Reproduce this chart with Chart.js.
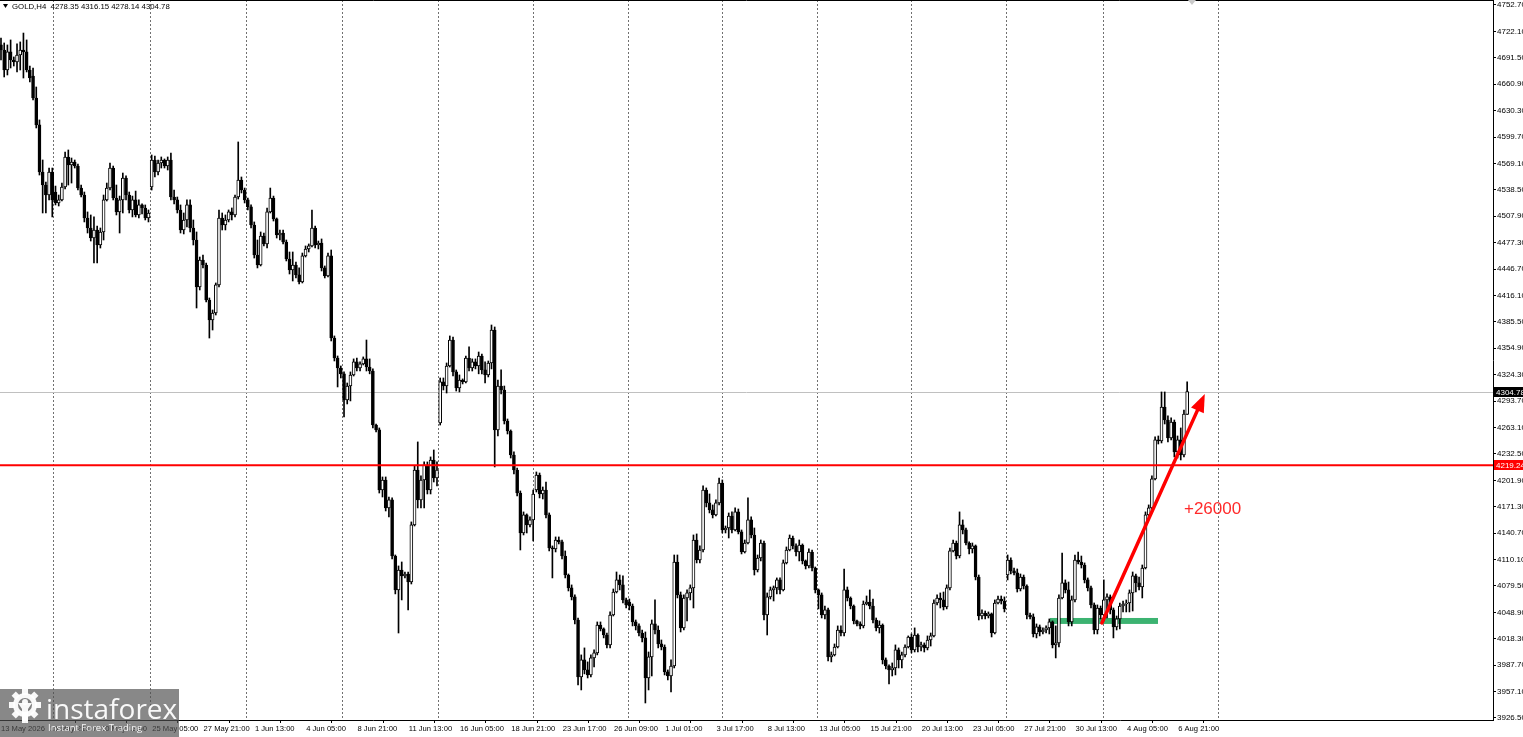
<!DOCTYPE html>
<html>
<head>
<meta charset="utf-8">
<script src="https://cdn.jsdelivr.net/npm/chart.js@4.4.1/dist/chart.umd.min.js"></script>
<style>
  html, body { margin: 0; padding: 0; background: #fff; overflow: hidden; }
  #wrap { width: 1523px; height: 737px; }
</style>
</head>
<body>
<div id="wrap"><canvas id="chart" width="1523" height="737"></canvas></div>
<script>
// GOLD H4 candles, one entry per bar (bar 0 = 13 May 2026 05:00)
const symbol = 'GOLD,H4';
const opens = [4706.4,4700.6,4677.4,4698.3,4689.0,4686.7,4694.8,4700.6,4698.3,4677.4,
4670.4,4644.9,4613.7,4559.2,4544.1,4532.5,4559.2,4536.0,4523.3,4526.8,
4541.8,4576.6,4567.3,4570.8,4566.1,4540.6,4532.5,4505.9,4494.3,4482.7,
4492.0,4474.6,4489.7,4526.8,4540.6,4563.8,4529.1,4512.9,4526.8,4552.2,
4532.5,4515.2,4526.8,4509.4,4521.0,4517.5,4505.9,4541.8,4573.1,4559.2,
4569.6,4573.1,4566.1,4573.1,4530.2,4526.8,4515.2,4492.0,4503.6,4521.0,
4494.3,4480.4,4426.0,4457.2,4451.4,4410.9,4387.7,4395.8,4428.3,4505.9,
4497.8,4503.6,4512.9,4509.4,4530.2,4549.9,4538.3,4526.8,4518.7,4497.8,
4463.0,4451.4,4485.0,4475.8,4512.9,4529.1,4504.8,4486.2,4488.5,4478.1,
4458.4,4445.7,4451.4,4439.9,4431.8,4461.9,4470.0,4473.5,4494.3,4474.6,
4476.9,4448.0,4438.7,4461.9,4366.8,4343.7,4332.1,4325.2,4295.0,4311.2,
4324.0,4339.1,4332.1,4336.8,4342.6,4333.2,4328.6,4266.0,4260.3,4190.7,
4202.3,4169.9,4179.2,4114.2,4074.9,4098.0,4091.1,4093.4,4084.1,4150.2,
4213.9,4179.2,4202.3,4219.7,4190.7,4225.5,4204.6,4268.4,4315.9,4311.2,
4334.4,4364.5,4327.5,4308.9,4318.2,4315.9,4343.7,4332.1,4339.1,4334.4,
4346.0,4329.8,4324.0,4337.9,4376.1,4260.3,4311.2,4306.6,4270.7,4259.1,
4231.3,4213.9,4187.2,4140.9,4161.8,4150.2,4156.0,4190.7,4208.1,4186.1,
4190.7,4161.8,4123.5,4122.4,4132.8,4130.5,4114.2,4092.2,4077.2,4066.8,
4040.1,3974.1,3993.8,3982.2,3976.4,3996.1,4001.9,4034.3,4029.7,4022.7,
4011.2,4045.9,4072.5,4086.5,4080.7,4063.3,4060.9,4056.3,4037.8,4033.2,
4025.0,4019.3,3972.9,3997.3,4035.5,4028.5,4012.3,4008.8,3979.9,3975.2,
3986.8,4107.3,4069.1,4030.9,4065.6,4071.4,4077.2,4132.8,4109.6,4121.2,
4190.7,4175.7,4167.6,4161.8,4175.7,4198.8,4144.4,4146.7,4160.6,4144.4,
4165.3,4142.1,4118.9,4129.3,4156.0,4138.6,4098.0,4111.9,4129.3,4045.9,
4066.8,4074.9,4077.2,4086.5,4074.9,4106.2,4121.2,4135.1,4125.9,4118.9,
4127.0,4108.5,4102.7,4118.9,4100.3,4074.9,4069.1,4045.9,4051.7,3997.3,
3999.6,4008.8,4028.5,4025.0,4074.9,4065.6,4056.3,4039.0,4035.5,4033.2,
4058.6,4060.9,4056.3,4040.1,4030.9,4034.3,3993.8,3986.8,3982.2,3984.5,
4005.4,3993.8,3999.6,4008.8,4020.4,4005.4,4022.7,4008.8,4011.2,4007.7,
4016.9,4021.6,4059.8,4065.6,4063.3,4055.2,4077.2,4120.1,4129.3,4114.2,
4150.2,4144.4,4129.3,4122.4,4125.9,4089.9,4044.7,4048.2,4044.7,4047.1,
4025.0,4059.8,4064.4,4062.1,4092.2,4109.6,4096.9,4094.6,4076.0,4089.9,
4079.5,4045.9,4043.6,4023.9,4032.0,4026.2,4028.5,4030.9,4037.8,4011.2,
4013.5,4065.6,4083.0,4074.9,4037.8,4063.3,4109.6,4107.3,4103.8,4086.5,
4077.2,4057.5,4028.5,4054.0,4045.9,4063.3,4066.8,4051.7,4032.0,4041.3,
4056.3,4058.6,4059.8,4071.4,4091.1,4083.0,4078.3,4100.3,4161.8,4169.9,
4203.5,4248.7,4247.5,4286.9,4271.8,4251.0,4269.5,4234.8,4248.7,4231.3,
4278.35];
const highs = [4714.5,4708.7,4706.4,4712.2,4692.5,4707.6,4709.9,4720.2,4712.2,4682.0,
4679.7,4657.7,4619.5,4573.1,4547.6,4563.8,4563.8,4542.9,4532.5,4546.4,
4582.4,4584.7,4575.4,4573.1,4568.5,4544.1,4536.0,4512.9,4509.4,4507.1,
4496.6,4494.3,4532.5,4546.4,4569.6,4566.1,4544.1,4531.3,4558.0,4554.6,
4536.0,4531.3,4537.1,4526.8,4522.2,4521.0,4515.2,4578.9,4577.7,4573.1,
4576.6,4574.3,4576.6,4581.2,4538.3,4530.2,4521.0,4511.7,4526.8,4526.8,
4503.6,4489.7,4460.7,4463.0,4453.7,4413.2,4399.3,4430.6,4515.2,4511.7,
4509.4,4515.2,4517.5,4532.5,4594.0,4553.4,4540.6,4529.1,4521.0,4501.3,
4480.4,4489.7,4488.5,4517.5,4540.6,4531.3,4505.9,4492.0,4492.0,4480.4,
4466.5,4466.5,4454.9,4448.0,4465.3,4473.5,4475.8,4515.2,4496.6,4479.2,
4481.6,4450.3,4465.3,4468.8,4369.2,4346.0,4334.4,4327.5,4314.7,4327.5,
4342.6,4343.7,4339.1,4344.9,4364.5,4342.6,4331.0,4267.2,4262.6,4205.8,
4205.8,4182.6,4181.5,4115.4,4102.7,4107.3,4095.7,4095.7,4153.7,4218.5,
4246.4,4207.0,4223.2,4223.2,4229.0,4237.1,4223.2,4320.5,4320.5,4337.9,
4369.2,4368.0,4329.8,4324.0,4319.4,4346.0,4356.5,4342.6,4342.6,4350.6,
4348.3,4339.1,4340.2,4381.9,4379.6,4318.2,4329.8,4311.2,4273.0,4260.3,
4234.8,4216.2,4189.6,4165.3,4163.0,4159.5,4190.7,4211.6,4210.4,4194.2,
4200.0,4164.1,4125.9,4136.3,4136.3,4132.8,4120.1,4093.4,4080.7,4069.1,
4042.4,3999.6,4007.7,3991.5,3999.6,4005.4,4037.8,4037.8,4030.9,4025.0,
4049.4,4076.0,4095.7,4092.2,4091.1,4065.6,4064.4,4058.6,4040.1,4035.5,
4028.5,4026.2,4003.0,4040.1,4063.3,4033.2,4016.9,4011.2,3982.2,3993.8,
4115.4,4115.4,4072.5,4069.1,4074.9,4080.7,4138.6,4139.8,4125.9,4195.4,
4193.1,4186.1,4173.4,4179.2,4204.6,4202.3,4149.0,4164.1,4165.3,4169.9,
4168.7,4144.4,4132.8,4181.5,4159.5,4146.7,4115.4,4132.8,4131.6,4071.4,
4078.3,4079.5,4088.8,4088.8,4109.6,4124.7,4138.6,4137.4,4128.2,4132.8,
4128.2,4109.6,4122.4,4121.2,4101.5,4076.0,4071.4,4056.3,4054.0,4003.0,
4012.3,4033.2,4033.2,4099.2,4078.3,4066.8,4057.5,4040.1,4037.8,4062.1,
4067.9,4074.9,4064.4,4042.4,4039.0,4035.5,3996.1,3988.0,3990.3,4011.2,
4007.7,4003.0,4011.2,4021.6,4023.9,4030.9,4023.9,4014.6,4013.5,4021.6,
4025.0,4063.3,4069.1,4071.4,4072.5,4080.7,4123.5,4132.8,4131.6,4165.3,
4156.0,4146.7,4130.5,4129.3,4127.0,4092.2,4051.7,4050.5,4049.4,4048.2,
4063.3,4067.9,4067.9,4066.8,4115.4,4112.0,4100.3,4099.2,4093.4,4092.2,
4080.7,4048.2,4047.1,4035.5,4034.3,4030.9,4033.2,4041.3,4039.0,4033.2,
4069.1,4117.7,4086.5,4084.1,4067.9,4115.4,4118.9,4114.2,4106.2,4088.8,
4079.5,4059.8,4057.5,4056.3,4086.5,4070.3,4069.1,4054.0,4044.7,4059.8,
4062.1,4063.3,4074.9,4095.7,4093.4,4089.9,4103.8,4165.3,4173.4,4207.0,
4252.2,4253.3,4304.3,4304.3,4276.5,4274.2,4271.8,4253.3,4262.6,4283.4,
4316.15];
const lows = [4689.0,4669.3,4671.6,4679.7,4682.0,4675.1,4677.4,4668.1,4675.1,4663.5,
4642.6,4610.2,4555.7,4511.7,4511.7,4526.8,4507.1,4521.0,4519.8,4525.6,
4539.5,4544.1,4546.4,4563.8,4538.3,4530.2,4501.3,4488.5,4479.2,4453.7,
4453.7,4471.1,4480.4,4525.6,4538.3,4526.8,4509.4,4488.5,4511.7,4526.8,
4511.7,4507.1,4507.1,4505.9,4510.6,4503.6,4501.3,4538.3,4553.4,4555.7,
4563.8,4563.8,4561.5,4526.8,4522.2,4511.7,4488.5,4487.4,4495.5,4489.7,
4474.6,4401.6,4422.5,4448.0,4408.6,4366.8,4376.1,4393.5,4426.0,4492.0,
4492.0,4501.3,4503.6,4507.1,4527.9,4534.9,4523.3,4515.2,4494.3,4459.5,
4448.0,4450.3,4473.5,4471.1,4511.7,4502.4,4482.7,4480.4,4475.8,4456.1,
4441.0,4432.9,4436.4,4429.4,4430.6,4460.7,4466.5,4472.3,4471.1,4470.0,
4444.5,4436.4,4437.5,4363.4,4340.2,4310.1,4320.5,4275.3,4290.4,4293.9,
4322.8,4328.6,4328.6,4335.6,4328.6,4325.3,4262.6,4258.0,4187.2,4182.6,
4166.4,4159.5,4110.8,4070.3,4025.0,4063.3,4088.8,4051.7,4081.8,4149.0,
4169.9,4169.9,4169.9,4186.1,4186.1,4200.0,4195.4,4266.0,4306.6,4303.1,
4333.2,4322.8,4305.4,4304.3,4313.6,4314.7,4328.6,4328.6,4331.0,4325.3,
4325.3,4314.7,4321.7,4331.0,4217.4,4253.3,4302.0,4267.2,4255.6,4227.8,
4209.3,4183.8,4121.2,4138.6,4140.9,4147.9,4131.6,4188.4,4181.5,4180.3,
4158.3,4120.1,4088.8,4118.9,4128.2,4110.8,4088.8,4073.7,4063.3,4035.5,
3964.8,3959.0,3977.6,3972.9,3974.1,3985.7,3999.6,4027.4,4019.3,4007.7,
4007.7,4044.7,4071.4,4074.9,4059.8,4054.0,4051.7,4033.2,4028.5,4021.6,
4014.6,3943.9,3959.0,3975.2,4023.9,4007.7,4005.4,3976.4,3970.6,3956.7,
3984.5,4065.6,4026.2,4028.5,4038.9,4063.3,4054.0,4106.2,4106.2,4118.9,
4171.1,4164.1,4158.3,4160.6,4173.4,4140.9,4140.9,4135.1,4140.9,4143.2,
4139.8,4116.6,4117.7,4128.2,4135.1,4092.2,4095.7,4108.5,4040.1,4022.7,
4064.4,4062.1,4070.3,4070.3,4073.7,4105.0,4120.1,4122.4,4114.2,4108.5,
4105.0,4099.2,4100.3,4096.9,4071.4,4052.9,4042.4,4041.3,3992.6,3991.5,
3998.4,4007.7,4021.6,4021.6,4062.1,4052.9,4035.5,4033.2,4029.7,4030.9,
4057.5,4052.9,4036.6,4027.4,4025.0,3989.1,3983.4,3966.0,3975.2,3976.4,
3984.5,3984.5,3997.3,4007.7,4001.9,4003.0,4003.0,4004.2,4003.0,4005.4,
4009.9,4020.4,4057.5,4054.0,4051.7,4052.9,4074.9,4118.9,4110.8,4112.0,
4139.8,4127.0,4116.6,4117.7,4086.5,4040.1,4041.3,4041.3,4042.4,4020.4,
4023.9,4058.6,4058.6,4049.4,4086.5,4093.4,4092.2,4072.5,4073.7,4076.0,
4041.3,4041.3,4020.4,4019.3,4021.6,4023.9,4025.0,4023.9,4007.7,3996.1,
4008.8,4064.4,4071.4,4033.2,4033.2,4061.0,4105.0,4100.3,4083.0,4073.7,
4054.0,4023.9,4023.9,4041.3,4039.0,4042.4,4047.1,4019.3,4028.5,4029.7,
4049.4,4049.4,4049.4,4050.5,4072.5,4074.9,4065.6,4099.2,4158.3,4168.7,
4202.3,4244.0,4245.2,4267.2,4246.4,4248.7,4229.0,4227.8,4225.5,4229.0,
4278.14];
const closes = [4700.6,4677.4,4698.3,4689.0,4686.7,4694.8,4700.6,4698.3,4677.4,4668.1,
4644.9,4613.7,4559.2,4544.1,4532.5,4559.2,4526.8,4523.3,4526.8,4541.8,
4576.6,4567.3,4570.8,4566.1,4540.6,4532.5,4505.9,4494.3,4482.7,4492.0,
4474.6,4489.7,4526.8,4540.6,4563.8,4529.1,4512.9,4526.8,4552.2,4532.5,
4515.2,4526.8,4509.4,4521.0,4517.5,4505.9,4511.7,4573.1,4559.2,4569.6,
4573.1,4566.1,4573.1,4530.2,4526.8,4515.2,4492.0,4503.6,4521.0,4494.3,
4480.4,4426.0,4457.2,4451.4,4410.9,4387.7,4395.8,4428.3,4505.9,4497.8,
4503.6,4512.9,4509.4,4530.2,4549.9,4538.3,4526.8,4518.7,4497.8,4463.0,
4451.4,4485.0,4475.8,4512.9,4529.1,4504.8,4486.2,4488.5,4478.1,4458.4,
4445.7,4451.4,4439.9,4431.8,4461.9,4470.0,4473.5,4494.3,4474.6,4476.9,
4448.0,4438.7,4461.9,4366.8,4343.7,4332.1,4325.2,4295.0,4311.2,4324.0,
4339.1,4332.1,4336.8,4342.6,4333.2,4328.6,4266.0,4260.3,4190.7,4202.3,
4169.9,4179.2,4114.2,4074.9,4098.0,4091.1,4093.4,4084.1,4150.2,4213.9,
4179.2,4202.3,4219.7,4190.7,4225.5,4204.6,4213.9,4315.9,4311.2,4334.4,
4364.5,4327.5,4308.9,4318.2,4315.9,4343.7,4332.1,4339.1,4334.4,4346.0,
4329.8,4324.0,4337.9,4376.1,4260.3,4311.2,4306.6,4270.7,4259.1,4231.3,
4213.9,4187.2,4140.9,4161.8,4150.2,4156.0,4186.1,4208.1,4186.1,4190.7,
4161.8,4123.5,4122.4,4132.8,4130.5,4114.2,4092.2,4077.2,4066.8,4040.1,
3974.1,3993.8,3982.2,3976.4,3996.1,4001.9,4034.3,4029.7,4022.7,4011.2,
4045.9,4072.5,4086.5,4080.7,4063.3,4057.5,4056.3,4037.8,4033.2,4025.0,
4019.3,3972.9,3997.3,4035.5,4028.5,4012.3,4008.8,3979.9,3975.2,3986.8,
4107.3,4069.1,4030.9,4065.6,4071.4,4077.2,4132.8,4109.6,4121.2,4190.7,
4175.7,4167.6,4161.8,4175.7,4198.8,4144.4,4146.7,4160.6,4144.4,4165.3,
4142.1,4118.9,4129.3,4156.0,4138.6,4098.0,4111.9,4129.3,4045.9,4066.8,
4074.9,4077.2,4086.5,4074.9,4106.2,4121.2,4135.1,4125.9,4118.9,4127.0,
4108.5,4102.7,4118.9,4100.3,4074.9,4069.1,4045.9,4051.7,3997.3,3999.6,
4008.8,4028.5,4025.0,4074.9,4065.6,4056.3,4039.0,4035.5,4033.2,4058.6,
4060.9,4056.3,4040.1,4030.9,4034.3,3993.8,3986.8,3982.2,3984.5,4005.4,
3993.8,3999.6,4008.8,4020.4,4005.4,4022.7,4008.8,4011.2,4007.7,4016.9,
4021.6,4059.8,4065.6,4063.3,4055.2,4077.2,4120.1,4129.3,4114.2,4150.2,
4144.4,4129.3,4122.4,4125.9,4089.9,4044.7,4048.2,4044.7,4047.1,4025.0,
4059.8,4064.4,4062.1,4052.9,4109.6,4096.9,4094.6,4076.0,4089.9,4079.5,
4045.9,4043.6,4023.9,4032.0,4026.2,4028.5,4030.9,4037.8,4011.2,4013.5,
4065.6,4083.0,4074.9,4037.8,4063.3,4109.6,4107.3,4103.8,4086.5,4077.2,
4057.5,4028.5,4054.0,4045.9,4063.3,4066.8,4051.7,4032.0,4041.3,4056.3,
4058.6,4059.8,4071.4,4091.1,4083.0,4078.3,4100.3,4161.8,4169.9,4203.5,
4248.7,4247.5,4286.9,4271.8,4251.0,4269.5,4234.8,4248.7,4231.3,4278.8,
4304.78];

// time axis: a label every 16 bars
const tickBars = [0,16,32,48,64,80,96,112,128,144,160,176,192,208,224,240,256,272,288,304,320,336,352,368];
const tickLabels = ['13 May 2026','15 May 21:00','20 May 13:00','25 May 05:00','27 May 21:00','1 Jun 13:00',
  '4 Jun 05:00','8 Jun 21:00','11 Jun 13:00','16 Jun 05:00','18 Jun 21:00','23 Jun 17:00','26 Jun 09:00',
  '1 Jul 01:00','3 Jul 17:00','8 Jul 13:00','13 Jul 05:00','15 Jul 21:00','20 Jul 13:00','23 Jul 05:00',
  '27 Jul 21:00','30 Jul 13:00','4 Aug 05:00','6 Aug 21:00'];
// week separators (bar positions)
const gridBars = [16.2,46.5,76.4,106.4,136.3,165.9,195.6,224.9,254.5,283.8,313.5,343.7,379.6];
const priceTicks = [4752.70,4722.10,4691.50,4660.90,4630.30,4599.70,4569.10,4538.50,4507.90,4477.30,
  4446.70,4416.10,4385.50,4354.90,4324.30,4293.70,4263.10,4232.50,4201.90,4171.30,4140.70,4110.10,
  4079.50,4048.90,4018.30,3987.70,3957.10,3926.50];

// drawn objects (bar index / price)
const levelPrice = 4219.24;
const zoneBars = [327.2, 360.9], zonePrices = [4035.5, 4042.4];
const arrowStart = [343.4, 4036.6], arrowEnd = [375.5, 4302.0];
const noteText = '+26000', notePos = [369, 4168.7];

const last = closes.length - 1;
const bodyData = opens.map((o, i) => ({ x: i, y: [Math.min(o, closes[i]), Math.max(o, closes[i])] }));
const wickData = opens.map((o, i) => ({ x: i, y: [lows[i], highs[i]] }));

const overlay = {
    id: 'overlay',
    beforeDraw(chart) {
        const { ctx, width, height } = chart;
        ctx.save();
        ctx.fillStyle = '#fff';
        ctx.fillRect(0, 0, width, height);
        ctx.restore();
    },
    beforeDatasetsDraw(chart) {
        const { ctx, chartArea: a, scales: { x, y } } = chart;
        ctx.save();
        // weekly separators
        ctx.strokeStyle = '#707070';
        ctx.lineWidth = 1;
        ctx.setLineDash([2, 2]);
        gridBars.forEach(b => {
            const px = Math.round(x.getPixelForValue(b)) + 0.5;
            ctx.beginPath(); ctx.moveTo(px, a.top); ctx.lineTo(px, a.bottom); ctx.stroke();
        });
        ctx.setLineDash([]);
        // bid line
        const by = Math.round(y.getPixelForValue(closes[last])) + 0.5;
        ctx.strokeStyle = '#c0c0c0';
        ctx.beginPath(); ctx.moveTo(a.left, by); ctx.lineTo(a.right, by); ctx.stroke();
        // green zone
        const zx1 = x.getPixelForValue(zoneBars[0]), zx2 = x.getPixelForValue(zoneBars[1]);
        const zy1 = y.getPixelForValue(zonePrices[1]), zy2 = y.getPixelForValue(zonePrices[0]);
        ctx.fillStyle = '#3cb371';
        ctx.fillRect(zx1, zy1, zx2 - zx1, zy2 - zy1);
        ctx.restore();
    },
    afterDatasetsDraw(chart) {
        const { ctx, chartArea: a, scales: { x, y }, width } = chart;
        ctx.save();
        // red level
        const ly = y.getPixelForValue(levelPrice);
        ctx.strokeStyle = '#ff0000';
        ctx.lineWidth = 2;
        ctx.beginPath(); ctx.moveTo(a.left, ly); ctx.lineTo(a.right, ly); ctx.stroke();
        // arrow
        const x1 = x.getPixelForValue(arrowStart[0]), y1 = y.getPixelForValue(arrowStart[1]);
        const x2 = x.getPixelForValue(arrowEnd[0]), y2 = y.getPixelForValue(arrowEnd[1]);
        const ang = Math.atan2(y2 - y1, x2 - x1);
        const headLen = 18, headW = 7;
        const bx = x2 - headLen * Math.cos(ang), byy = y2 - headLen * Math.sin(ang);
        ctx.lineWidth = 3.5;
        ctx.lineCap = 'round';
        ctx.beginPath(); ctx.moveTo(x1, y1); ctx.lineTo(bx, byy); ctx.stroke();
        ctx.fillStyle = '#ff0000';
        ctx.beginPath();
        ctx.moveTo(x2, y2);
        ctx.lineTo(bx + headW * Math.sin(ang), byy - headW * Math.cos(ang));
        ctx.lineTo(bx - headW * Math.sin(ang), byy + headW * Math.cos(ang));
        ctx.closePath(); ctx.fill();
        // note
        ctx.fillStyle = '#ff2a2a';
        ctx.font = '17px "Liberation Sans", Arial, sans-serif';
        ctx.textBaseline = 'middle';
        ctx.textAlign = 'left';
        ctx.fillText(noteText, x.getPixelForValue(notePos[0]), y.getPixelForValue(notePos[1]));
        // price tags on the axis
        ctx.font = '8px "Liberation Sans", Arial, sans-serif';
        [[closes[last], '#000000'], [levelPrice, '#ff0000']].forEach(([p, col]) => {
            const py = Math.round(y.getPixelForValue(p));
            ctx.fillStyle = col;
            ctx.fillRect(a.right + 1, py - 5, width - a.right - 1, 10);
            ctx.fillStyle = '#fff';
            ctx.fillText(p.toFixed(2), a.right + 3, py + 0.5);
        });
        ctx.restore();
    },
    afterDraw(chart) {
        const { ctx, chartArea: a, scales: { x } } = chart;
        ctx.save();
        // top frame
        ctx.strokeStyle = '#000';
        ctx.lineWidth = 1;
        ctx.beginPath(); ctx.moveTo(0, 0.5); ctx.lineTo(a.right, 0.5); ctx.stroke();
        // shift marker
        const mx = x.getPixelForValue(371.5);
        ctx.fillStyle = '#c8c8c8';
        ctx.beginPath(); ctx.moveTo(mx - 4, 0); ctx.lineTo(mx + 4, 0); ctx.lineTo(mx, 5); ctx.closePath(); ctx.fill();
        // header
        ctx.fillStyle = '#000';
        ctx.beginPath(); ctx.moveTo(3, 4); ctx.lineTo(8, 4); ctx.lineTo(5.5, 8); ctx.closePath(); ctx.fill();
        ctx.font = '7.8px "Liberation Sans", Arial, sans-serif';
        ctx.textBaseline = 'middle';
        ctx.fillStyle = '#000';
        const head = symbol + '  ' + [opens[last], highs[last], lows[last], closes[last]].map(v => v.toFixed(2)).join(' ');
        ctx.fillText(head, 12, 6.5);
        // watermark
        ctx.fillStyle = 'rgba(80,80,80,0.68)';
        ctx.fillRect(0, 689, 179, 48);
        ctx.fillStyle = 'rgba(255,255,255,0.95)';
        const gx = 25, gy = 705;
        for (let k = 0; k < 8; k++) {
            const t = k * Math.PI / 4;
            ctx.save(); ctx.translate(gx, gy); ctx.rotate(t);
            ctx.fillRect(-3, -16, 6, 6);
            ctx.restore();
        }
        ctx.beginPath(); ctx.arc(gx, gy, 12, 0, Math.PI * 2); ctx.fill();
        ctx.fillStyle = 'rgb(128,128,128)';
        ctx.beginPath(); ctx.arc(gx, gy, 7, 0, Math.PI * 2); ctx.fill();
        ctx.fillStyle = 'rgba(255,255,255,0.95)';
        ctx.beginPath(); ctx.arc(gx, gy - 3, 3, 0, Math.PI * 2); ctx.fill();
        ctx.beginPath(); ctx.moveTo(gx - 7, gy - 2); ctx.lineTo(gx + 7, gy - 2); ctx.lineTo(gx + 3, gy + 4); ctx.lineTo(gx + 3, gy + 18);
        ctx.lineTo(gx - 3, gy + 18); ctx.lineTo(gx - 3, gy + 4); ctx.closePath(); ctx.fill();
        ctx.textBaseline = 'alphabetic';
        ctx.font = '28px "Open Sans", "Liberation Sans", sans-serif';
        ctx.fillText('instaforex', 46, 719);
        ctx.font = '9.5px "Open Sans", "Liberation Sans", sans-serif';
        ctx.fillText('Instant Forex Trading', 48, 731);
        ctx.restore();
    }
};

new Chart(document.getElementById('chart'), {
    type: 'bar',
    data: {
        datasets: [
            {
                label: 'body',
                data: bodyData,
                backgroundColor: c => (closes[c.dataIndex] >= opens[c.dataIndex] ? '#ffffff' : '#000000'),
                borderColor: '#000000',
                borderWidth: 1,
                borderSkipped: false,
                barThickness: 3,
                minBarLength: 1,
                grouped: false,
                order: 1
            },
            {
                label: 'wick',
                data: wickData,
                backgroundColor: '#000000',
                borderWidth: 0,
                barThickness: 1,
                grouped: false,
                order: 2
            }
        ]
    },
    options: {
        responsive: false,
        animation: false,
        devicePixelRatio: 1,
        events: [],
        layout: { padding: 0 },
        plugins: { legend: { display: false }, tooltip: { enabled: false } },
        scales: {
            x: {
                type: 'linear',
                min: -0.31,
                max: 465.4,
                offset: false,
                afterBuildTicks: s => { s.ticks = tickBars.map(b => ({ value: b === 0 ? 0 : b - 0.8 })); },
                afterFit: s => { s.height = 17; s.paddingLeft = 0; s.paddingRight = 0; },
                ticks: {
                    align: 'start', autoSkip: false, maxRotation: 0, minRotation: 0, padding: 1,
                    color: '#000',
                    font: { family: '"Liberation Sans", Arial, sans-serif', size: 7.6 },
                    callback: (v, i) => tickLabels[i]
                },
                grid: { drawOnChartArea: false, drawTicks: true, tickLength: 3, color: '#000' },
                border: { display: true, color: '#000', width: 1 }
            },
            y: {
                position: 'right',
                min: 3924.18,
                max: 4758.49,
                afterBuildTicks: s => { s.ticks = priceTicks.map(v => ({ value: v })); },
                afterFit: s => { s.width = 30; s.paddingTop = 0; s.paddingBottom = 0; },
                ticks: {
                    autoSkip: false, padding: 1, color: '#000',
                    font: { family: '"Liberation Sans", Arial, sans-serif', size: 8 },
                    callback: v => Number(v).toFixed(2)
                },
                grid: { drawOnChartArea: false, drawTicks: true, tickLength: 3, color: '#000' },
                border: { display: true, color: '#000', width: 1 }
            }
        }
    },
    plugins: [overlay]
});
</script>
</body>
</html>
